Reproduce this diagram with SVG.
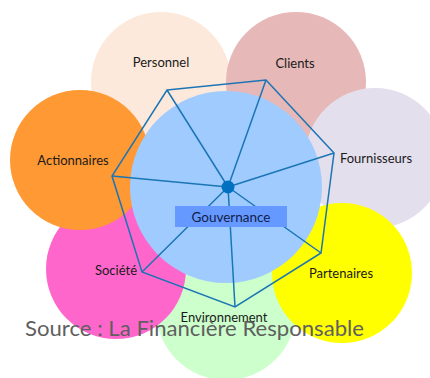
<svg xmlns="http://www.w3.org/2000/svg" width="430" height="378" viewBox="0 0 430 378">
<style>
.lbl{font-family:Lato,"Open Sans","Liberation Sans",sans-serif;font-size:13px;fill:#1a1a1a;text-anchor:middle}
.ln{stroke:#1B75B5;stroke-width:1.5;fill:none}
</style>
<rect width="430" height="378" fill="#fff"/>
<g id="personnel"><circle cx="161" cy="82" r="70" fill="#FCE9DB"/></g>
<g id="clients"><circle cx="296" cy="82" r="70" fill="#E6B8B7"/></g>
<g id="fournisseurs"><circle cx="375" cy="158" r="70" fill="#E4DFEC"/></g>
<g id="environnement"><circle cx="226" cy="310" r="70" fill="#CCFFCC"/></g>
<g id="partenaires"><circle cx="342" cy="273" r="70" fill="#FFFF00"/></g>
<g id="societe"><circle cx="116" cy="269" r="70" fill="#FF66CC"/></g>
<g id="actionnaires"><circle cx="80" cy="160" r="70" fill="#FF9933"/></g>
<g id="gouvernance-circle"><circle cx="226" cy="187" r="96" fill="#A0CBFF"/></g>
<g id="connectors">
<polygon class="ln" points="167,90 266,80 334,153 321,253 235,307 142,272 112,176"/>
<path class="ln" d="M228,187L167,90M228,187L266,80M228,187L334,153M228,187L321,253M228,187L235,307M228,187L142,272M228,187L112,176"/>
<circle cx="228" cy="187" r="6.5" fill="#0070C0"/>
</g>
<g id="gouvernance"><rect x="175" y="206" width="112" height="21" fill="#6699FF"/>
<text class="lbl" x="231" y="222" style="font-size:13.5px;fill:#10204a">Gouvernance</text></g>
<g id="labels">
<text class="lbl" x="161" y="67">Personnel</text>
<text class="lbl" x="295" y="68">Clients</text>
<text class="lbl" x="376" y="163">Fournisseurs</text>
<text class="lbl" x="73" y="165">Actionnaires</text>
<text class="lbl" x="116" y="275">Société</text>
<text class="lbl" x="224" y="322">Environnement</text>
<text class="lbl" x="341" y="278">Partenaires</text>
</g>
<text x="25" y="336" textLength="339" lengthAdjust="spacingAndGlyphs" style="font-family:Lato,'Open Sans','Liberation Sans',sans-serif;font-size:22px;fill:#5f5f5f">Source : La Financière Responsable</text>
</svg>
